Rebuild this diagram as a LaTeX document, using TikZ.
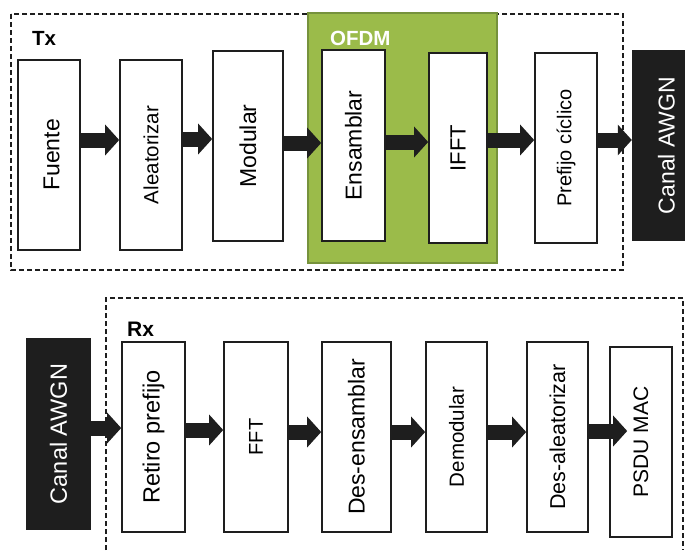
\documentclass[tikz,border=0pt]{standalone}
\usepackage{fontspec}
\usepackage{graphicx}
\setmainfont{Liberation Sans}
\usetikzlibrary{arrows.meta}

\definecolor{ofdmfill}{HTML}{9BBB4A}
\definecolor{ofdmedge}{HTML}{76923C}
\definecolor{ink}{HTML}{1E1E1E}

% vertical label text of a given size
\newcommand{\rottxt}[2]{\rotatebox{90}{\fontsize{#1}{#1}\selectfont #2}}

\tikzset{
  blockbox/.style={draw=ink, line width=1.6pt, fill=white, inner sep=0pt},
  chanbox/.style={fill=ink, draw=none, inner sep=0pt, text=white},
  grpframe/.style={draw=ink, line width=1.3pt, dash pattern=on 5pt off 3pt},
  flow/.style={draw=ink, line width=15pt,
    -{Triangle[length=14pt,width=30pt]}},
  grplabel/.style={anchor=base west, inner sep=0pt, font=\fontsize{20.5}{20.5}\selectfont\bfseries}
}

\begin{document}
\begin{tikzpicture}[x=1pt, y=-1pt]
\useasboundingbox (0,0) rectangle (685,550);

% ---------------- transmitter ----------------
\draw[grpframe] (11,14) rectangle (623,270);
\draw[fill=ofdmfill, draw=ofdmedge, line width=1.5pt] (308,13) rectangle (497,263);
\node[grplabel] (txl) at (32,45) {Tx};
\node[grplabel, text=white] (ofdml) at (330,45) {OFDM};

\node[blockbox, minimum width=62pt, minimum height=190pt] (fu) at (49,155) {\hspace*{5pt}\rottxt{23}{Fuente}};
\node[blockbox, minimum width=62pt, minimum height=190pt] (al) at (151,155) {\rottxt{20.5}{Aleatorizar}};
\node[blockbox, minimum width=70pt, minimum height=190pt] (mo) at (248,146) {\rottxt{23}{Modular}};
\node[blockbox, minimum width=63pt, minimum height=191pt] (en) at (353.5,145.5) {\rottxt{23}{Ensamblar}};
\node[blockbox, minimum width=58pt, minimum height=190pt] (if) at (458,148) {\rottxt{22}{IFFT}};
\node[blockbox, minimum width=62pt, minimum height=190pt] (pc) at (566,148) {\rottxt{20}{Prefijo cíclico}};
\node[chanbox, minimum width=53pt, minimum height=191pt] (ca1) at (658.5,145.5) {\hspace*{16pt}\rottxt{23}{Canal AWGN}};

\draw[flow] (fu.east |- 0,140) -- (al.west |- 0,140);
\draw[flow] (al.east |- 0,139) -- (mo.west |- 0,139);
\draw[flow] (mo.east |- 0,143) -- (en.west |- 0,143);
\draw[flow] (en.east |- 0,142) -- (if.west |- 0,142);
\draw[flow] (if.east |- 0,140) -- (pc.west |- 0,140);
\draw[flow] (pc.east |- 0,140) -- (ca1.west |- 0,140);

% ---------------- receiver ----------------
\draw[grpframe] (106,550) -- (106,298) -- (683,298) -- (683,550);
\node[grplabel, font=\fontsize{21}{21}\selectfont\bfseries] (rxl) at (127,336) {Rx};

\node[chanbox, minimum width=65pt, minimum height=192pt] (ca2) at (58.5,434) {\rottxt{23.5}{Canal AWGN}};
\node[blockbox, minimum width=63pt, minimum height=190pt] (rp) at (153.5,437) {\rottxt{23.5}{Retiro prefijo}};
\node[blockbox, minimum width=64pt, minimum height=190pt] (ff) at (256,437) {\rottxt{20}{FFT}};
\node[blockbox, minimum width=69pt, minimum height=190pt] (de) at (356.5,437) {\rottxt{23}{Des-ensamblar}};
\node[blockbox, minimum width=61pt, minimum height=190pt] (dm) at (456.5,437) {\rottxt{20.5}{Demodular}};
\node[blockbox, minimum width=61pt, minimum height=190pt] (da) at (557.5,437) {\rottxt{21.5}{Des-aleatorizar}};
\node[blockbox, minimum width=62pt, minimum height=190pt] (ps) at (641,442) {\rottxt{21}{PSDU MAC}};

\draw[flow] (ca2.east |- 0,428) -- (rp.west |- 0,428);
\draw[flow] (rp.east |- 0,430) -- (ff.west |- 0,430);
\draw[flow] (ff.east |- 0,432) -- (de.west |- 0,432);
\draw[flow] (de.east |- 0,432) -- (dm.west |- 0,432);
\draw[flow] (dm.east |- 0,432) -- (da.west |- 0,432);
% the last arrow runs into the PSDU box
\draw[flow] (da.east |- 0,431) -- ([xshift=18pt]ps.west |- 0,431);
\end{tikzpicture}
\end{document}
